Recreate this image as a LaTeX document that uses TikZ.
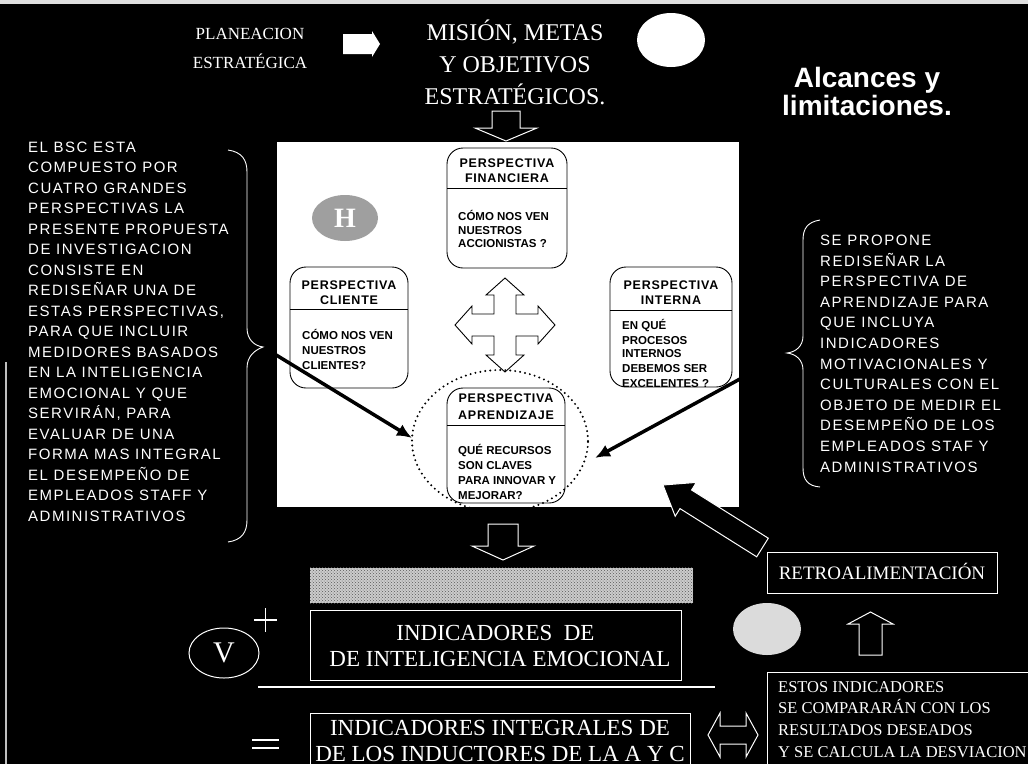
\documentclass[tikz,border=0pt]{standalone}
\usepackage{fontspec}
\setmainfont{Liberation Serif}
\newfontfamily\notefont{Liberation Sans}[LetterSpace=10]
\newfontfamily\cardfont{Liberation Sans}[LetterSpace=6]
\newfontfamily\bodyfont{Liberation Sans}
\newfontfamily\headfont{Liberation Sans}
\usetikzlibrary{arrows.meta,patterns}

\begin{document}
\begin{tikzpicture}[x=1pt,y=-1pt,
  txt/.style={text=white,inner sep=0pt},
  note/.style={txt,font=\notefont\fontsize{15}{20}\selectfont,anchor=base west},
  serifw/.style={txt,anchor=base},
  card/.style={draw=black,line width=0.9pt,rounded corners=16pt,fill=white,inner sep=0pt},
  cardhead/.style={inner sep=0pt,anchor=base,font=\cardfont\bfseries\fontsize{12.5}{14}\selectfont},
  cardbody/.style={inner sep=0pt,anchor=base west,font=\bodyfont\bfseries\fontsize{11.5}{14}\selectfont},
  wbox/.style={draw=white,line width=1pt,inner sep=0pt},
  hollow/.style={draw=white,line width=1pt,fill=black,line join=miter},
  pointer/.style={draw=black,line width=3.5pt,-{Latex[length=15pt,width=13pt]}},
]
\useasboundingbox (0,0) rectangle (1028,764);
\fill[black] (0,0) rectangle (1028,764);
\fill[white!88!black] (0,0) rectangle (1028,4);
\draw[white!75!black,line width=1.2pt] (6,362) -- (6,764);

% heading row
\node[serifw,font=\fontsize{17}{20}\selectfont] (plan1) at (250,39) {PLANEACION};
\node[serifw,font=\fontsize{17}{20}\selectfont] (plan2) at (250,68) {ESTRATÉGICA};
\fill[white] (343,34) -- (372,34) -- (372,31) -- (380,44) -- (372,57) -- (372,54) -- (343,54) -- cycle;
\node[serifw,font=\fontsize{24}{28}\selectfont] (mis1) at (515,40) {MISIÓN, METAS};
\node[serifw,font=\fontsize{24}{28}\selectfont] (mis2) at (515,72) {Y OBJETIVOS};
\node[serifw,font=\fontsize{24}{28}\selectfont] (mis3) at (515,104) {ESTRATÉGICOS.};
\fill[white] (671,40) ellipse [x radius=34pt,y radius=27pt];
\node[serifw,font=\headfont\bfseries\fontsize{28}{30}\selectfont] (alc1) at (867,87) {Alcances y};
\node[serifw,font=\headfont\bfseries\fontsize{28}{30}\selectfont] (alc2) at (867,115) {limitaciones.};

% arrow into the scorecard
\draw[hollow] (492,111) -- (520,111) -- (520,128) -- (537,128) -- (506,141) -- (475,128) -- (492,128) -- cycle;

% scorecard panel
\node[fill=white,inner sep=0pt,minimum width=462pt,minimum height=365pt] (bsc) at (508,324.5) {};

% H badge
\fill[gray!75] (345,218) ellipse [x radius=33pt,y radius=23pt];
\node[txt,font=\bfseries\fontsize{28}{30}\selectfont] (hmark) at (345,218) {H};

% four-way arrow
\filldraw[fill=white,draw=black,line width=0.9pt,line join=miter]
  (505,278) -- (524,295) -- (516,295) -- (516,314) -- (538,314) -- (538,306) -- (555,325)
  -- (538,344) -- (538,336) -- (516,336) -- (516,355) -- (524,355) -- (505,372)
  -- (486,355) -- (494,355) -- (494,336) -- (472,336) -- (472,344) -- (455,325)
  -- (472,306) -- (472,314) -- (494,314) -- (494,295) -- (486,295) -- cycle;

% perspective cards
\node[card,minimum width=120pt,minimum height=120pt] (fin) at (507,208) {};
\draw[line width=0.9pt] (447,188) -- (567,188);
\node[cardhead] (fin1) at (507,167.5) {PERSPECTIVA};
\node[cardhead] (fin2) at (507,182.5) {FINANCIERA};
\node[cardbody] (fin3) at (458,220) {CÓMO NOS VEN};
\node[cardbody] (fin4) at (458,234) {NUESTROS};
\node[cardbody] (fin5) at (458,247.5) {ACCIONISTAS ?};

\node[card,minimum width=118pt,minimum height=121pt] (cli) at (349,327.5) {};
\draw[line width=0.9pt] (290,309) -- (408,309);
\node[cardhead] (cli1) at (349,289.5) {PERSPECTIVA};
\node[cardhead] (cli2) at (349,304.5) {CLIENTE};
\node[cardbody] (cli3) at (302,339) {CÓMO NOS VEN};
\node[cardbody] (cli4) at (302,354) {NUESTROS};
\node[cardbody] (cli5) at (302,369) {CLIENTES?};

\node[card,minimum width=122pt,minimum height=120pt] (int) at (671,327) {};
\draw[line width=0.9pt] (610,310) -- (732,310);
\node[cardhead] (int1) at (671,289.5) {PERSPECTIVA};
\node[cardhead] (int2) at (671,304.5) {INTERNA};
\node[cardbody] (int3) at (622,329) {EN QUÉ};
\node[cardbody] (int4) at (622,344) {PROCESOS};
\node[cardbody] (int5) at (622,357.5) {INTERNOS};
\node[cardbody] (int6) at (622,372.5) {DEBEMOS SER};
\node[cardbody] (int7) at (622,387) {EXCELENTES ?};

\node[card,minimum width=118pt,minimum height=115pt] (apr) at (506,445.5) {};
\draw[line width=0.9pt] (447,425) -- (565,425);
\node[cardhead] (apr1) at (506,402.5) {PERSPECTIVA};
\node[cardhead] (apr2) at (506,419.5) {APRENDIZAJE};
\node[cardbody] (apr3) at (458,454) {QUÉ RECURSOS};
\node[cardbody] (apr4) at (458,469) {SON CLAVES};
\node[cardbody] (apr5) at (458,484) {PARA INNOVAR Y};
\node[cardbody] (apr6) at (458,499) {MEJORAR?};

\draw[black,line width=2.2pt,dash pattern=on 0pt off 5pt,line cap=round]
  (500,441) ellipse [x radius=88pt,y radius=71pt];

% side notes with braces
\foreach \t [count=\i from 0] in {{EL BSC ESTA},{COMPUESTO POR},{CUATRO GRANDES},
  {PERSPECTIVAS  LA},{PRESENTE  PROPUESTA},{DE INVESTIGACION},{CONSISTE EN},
  {REDISEÑAR UNA DE},{ESTAS PERSPECTIVAS,},{PARA QUE INCLUIR},{MEDIDORES BASADOS},
  {EN LA INTELIGENCIA},{EMOCIONAL Y   QUE},{SERVIRÁN,  PARA},{EVALUAR DE UNA},
  {FORMA MAS INTEGRAL},{EL DESEMPEÑO DE},{EMPLEADOS STAFF  Y},{ADMINISTRATIVOS}}
  \node[note] (left\i) at (28,{152.4+20.5*\i}) {\t};

\foreach \t [count=\i from 0] in {{SE PROPONE},{REDISEÑAR LA},{PERSPECTIVA DE},
  {APRENDIZAJE  PARA},{QUE INCLUYA},{INDICADORES},{MOTIVACIONALES  Y},
  {CULTURALES CON EL},{OBJETO DE MEDIR EL},{DESEMPEÑO DE LOS},
  {EMPLEADOS STAF Y},{ADMINISTRATIVOS}}
  \node[note] (right\i) at (820,{245.4+20.6*\i}) {\t};

\coordinate (lcusp) at (263,347);
\coordinate (rcusp) at (787,353);
\draw[white,line width=0.9pt] (228,150) .. controls (242,152) and (247,160) .. (247,172)
  -- (247,328) .. controls (247,340) and (255,346) .. (lcusp)
  .. controls (255,350) and (247,356) .. (247,368) -- (247,520)
  .. controls (247,532) and (242,540) .. (228,542);
\draw[white,line width=0.9pt] (820,220) .. controls (808,222) and (803,228) .. (803,240)
  -- (803,336) .. controls (803,346) and (796,352) .. (rcusp)
  .. controls (796,354) and (803,360) .. (803,370) -- (803,468)
  .. controls (803,480) and (808,486) .. (820,487);

\coordinate (lstart) at (268,350);
\coordinate (ltip) at (412,438);
\coordinate (rstart) at (784,355);
\coordinate (rtip) at (595,458);
\draw[pointer] (lstart) -- (ltip);
\draw[pointer] (rstart) -- (rtip);

% feedback arrow into the panel
\filldraw[fill=black,draw=white,line width=1pt,line join=miter]
  (663,485) -- (696.4,482.4) -- (691.6,490.0) -- (768.3,538.2) -- (756.7,556.8)
  -- (680.0,508.6) -- (675.2,516.2) -- cycle;

% lower formula
\draw[hollow] (488,524) -- (518,524) -- (518,546) -- (534,546) -- (503,560) -- (472,546) -- (488,546) -- cycle;
\node[fill=white!80!black,inner sep=0pt,minimum width=383pt,minimum height=35pt] (band) at (501.5,585.5) {};
\fill[pattern=crosshatch dots,pattern color=gray!70!black] (band.south west) rectangle (band.north east);

\node[wbox,minimum width=371pt,minimum height=70pt] (indbox) at (495.5,645) {};
\node[serifw,font=\fontsize{23}{26}\selectfont] (ind1) at (495.5,640) {INDICADORES\ \ DE};
\node[serifw,font=\fontsize{23}{26}\selectfont] (ind2) at (500,666) {DE INTELIGENCIA EMOCIONAL};

\draw[white,line width=1pt] (212,653) ellipse [x radius=0pt,y radius=0pt];
\draw[white,line width=1pt] (224,653) ellipse [x radius=35pt,y radius=25pt];
\node[txt,font=\fontsize{30}{32}\selectfont] (vmark) at (224,653) {V};
\draw[white,line width=1.6pt] (254,620) -- (277,620) (265.5,608) -- (265.5,632);

\draw[white,line width=1.2pt] (258,687) -- (715,687);
\draw[white,line width=2pt] (252,740) -- (279,740) (252,748) -- (279,748);

\draw[white,line width=1pt] (310,770) -- (310,713) -- (690,713) -- (690,770);
\node[serifw,font=\fontsize{23}{26}\selectfont] (tot1) at (500,735) {INDICADORES INTEGRALES DE};
\node[serifw,font=\fontsize{23}{26}\selectfont] (tot2) at (500,761) {DE LOS INDUCTORES DE LA A Y C};

\draw[hollow] (708,735) -- (720,713) -- (720,726) -- (746,726) -- (746,713) -- (758,735)
  -- (746,757) -- (746,744) -- (720,744) -- (720,757) -- cycle;

% feedback column
\node[wbox,minimum width=230pt,minimum height=41pt] (retro) at (882,572.5) {};
\node[serifw,font=\fontsize{19}{22}\selectfont] (retrot) at (882,579) {RETROALIMENTACIÓN};
\fill[white!86!black] (767,629) ellipse [x radius=34pt,y radius=26pt];
\draw[hollow] (870.5,612) -- (893,624) -- (882,624) -- (882,655) -- (859,655) -- (859,624) -- (848,624) -- cycle;
\draw[white,line width=1pt] (767,770) -- (767,672) -- (1035,672);
\node[txt,anchor=base west,font=\fontsize{16.5}{20}\selectfont] (est1) at (778,692.5) {ESTOS INDICADORES};
\node[txt,anchor=base west,font=\fontsize{16.5}{20}\selectfont] (est2) at (778,713.5) {SE COMPARARÁN CON LOS};
\node[txt,anchor=base west,font=\fontsize{16.5}{20}\selectfont] (est3) at (778,735.5) {RESULTADOS DESEADOS};
\node[txt,anchor=base west,font=\fontsize{16.5}{20}\selectfont] (est4) at (778,757.5) {Y SE CALCULA LA DESVIACION};
\end{tikzpicture}
\end{document}
